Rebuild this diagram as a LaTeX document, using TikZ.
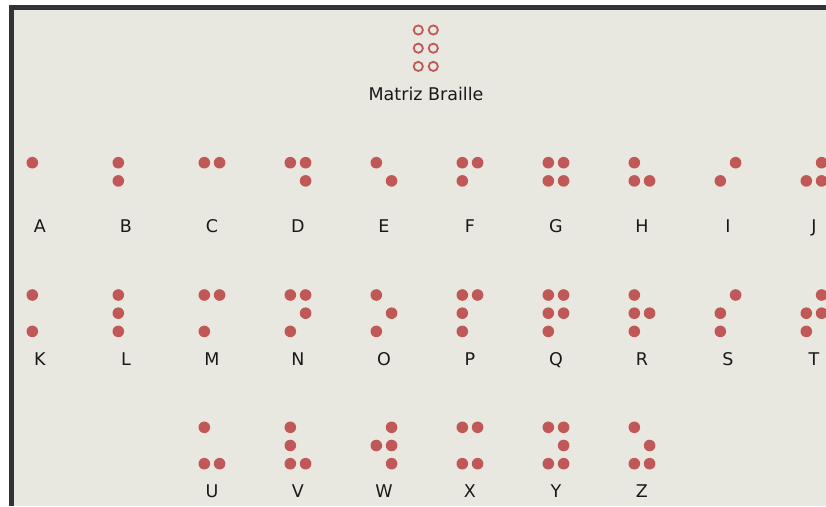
\documentclass[tikz,border=0pt]{standalone}
\usepackage{fontspec}
\setmainfont{DejaVu Sans}
\definecolor{bg}{HTML}{E9E8E0}
\definecolor{framegray}{HTML}{333336}
\definecolor{dotred}{HTML}{C05858}
\tikzset{
  bdot/.style={fill=dotred},
  hdot/.style={draw=dotred, line width=1.8pt},
  lbl/.style={font=\fontsize{17.5}{20}\selectfont, text=black!90, inner sep=0pt, anchor=base},
}
% #1 name, #2 left x, #3 top y, #4 dot list, #5 letter
\newcommand\braillecell[5]{%
  \foreach \d in {#4} {%
    \pgfmathtruncatemacro\cc{(\d>3)}%
    \pgfmathtruncatemacro\rr{mod(\d-1,3)}%
    \fill[bdot] ({#2+15.3*\cc},{#3+18.2*\rr}) circle[radius=5.8pt];
  }
  \node[lbl] (#1) at ({#2+7.65},{#3+70}) {#5};
}
\begin{document}
\begin{tikzpicture}[x=1pt,y=-1pt]
  \useasboundingbox (0,0) rectangle (826,506);
  \clip (0,0) rectangle (826,506);
  \fill[white] (0,0) rectangle (826,506);
  \fill[framegray] (9,5) rectangle (826,506);
  \fill[bg] (14,10) rectangle (826,506);
  % header matrix
  \foreach \cx in {418.3,433.3} \foreach \cy in {30,48.2,66.4}
    \draw[hdot] (\cx,\cy) circle[radius=4.6pt];
  \node[lbl] (title) at (426,100) {Matriz Braille};
  % row 1
  \def\ra{162.7}
  \braillecell{lA}{32.3}{\ra}{1}{A}
  \braillecell{lB}{118.3}{\ra}{1,2}{B}
  \braillecell{lC}{204.3}{\ra}{1,4}{C}
  \braillecell{lD}{290.3}{\ra}{1,4,5}{D}
  \braillecell{lE}{376.3}{\ra}{1,5}{E}
  \braillecell{lF}{462.3}{\ra}{1,2,4}{F}
  \braillecell{lG}{548.3}{\ra}{1,2,4,5}{G}
  \braillecell{lH}{634.3}{\ra}{1,2,5}{H}
  \braillecell{lI}{720.3}{\ra}{2,4}{I}
  \braillecell{lJ}{806.3}{\ra}{2,4,5}{J}
  % row 2
  \def\rb{295}
  \braillecell{lK}{32.3}{\rb}{1,3}{K}
  \braillecell{lL}{118.3}{\rb}{1,2,3}{L}
  \braillecell{lM}{204.3}{\rb}{1,3,4}{M}
  \braillecell{lN}{290.3}{\rb}{1,3,4,5}{N}
  \braillecell{lO}{376.3}{\rb}{1,3,5}{O}
  \braillecell{lP}{462.3}{\rb}{1,2,3,4}{P}
  \braillecell{lQ}{548.3}{\rb}{1,2,3,4,5}{Q}
  \braillecell{lR}{634.3}{\rb}{1,2,3,5}{R}
  \braillecell{lS}{720.3}{\rb}{2,3,4}{S}
  \braillecell{lT}{806.3}{\rb}{2,3,4,5}{T}
  % row 3
  \def\rc{427.3}
  \braillecell{lU}{204.3}{\rc}{1,3,6}{U}
  \braillecell{lV}{290.3}{\rc}{1,2,3,6}{V}
  \braillecell{lW}{376.3}{\rc}{2,4,5,6}{W}
  \braillecell{lX}{462.3}{\rc}{1,3,4,6}{X}
  \braillecell{lY}{548.3}{\rc}{1,3,4,5,6}{Y}
  \braillecell{lZ}{634.3}{\rc}{1,3,5,6}{Z}
\end{tikzpicture}
\end{document}
